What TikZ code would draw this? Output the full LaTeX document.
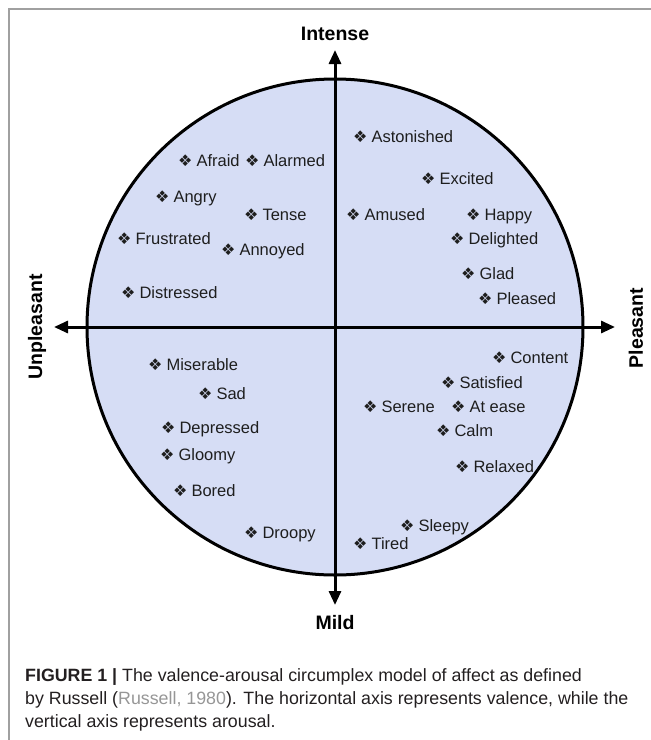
\documentclass[tikz,border=0pt]{standalone}
\usepackage{fontspec}
\setmainfont{Liberation Sans}
\newfontfamily\dejavu{DejaVu Sans}
\usetikzlibrary{arrows.meta}
\definecolor{circfill}{RGB}{214,221,245}
\definecolor{wordtxt}{RGB}{30,30,30}
\definecolor{captxt}{RGB}{35,31,32}
\definecolor{citegray}{RGB}{150,150,150}
\definecolor{framegray}{RGB}{160,160,160}
\newcommand{\diam}{{\dejavu\fontsize{16}{16}\selectfont ❖}\hspace{4pt}}
\begin{document}
\begin{tikzpicture}[x=1pt,y=-1pt,
  word/.style={anchor=base west, inner sep=0pt, font=\fontsize{16.5}{18}\selectfont, text=wordtxt},
  axlabel/.style={inner sep=0pt, font=\bfseries\fontsize{19.5}{22}\selectfont, text=black},
  axisline/.style={line width=3pt, {Triangle[length=14pt,width=12pt]}-{Triangle[length=14pt,width=12pt]}},
  captionline/.style={anchor=base west, inner sep=0pt, font=\fontsize{17.8}{22}\selectfont, text=captxt}]
\useasboundingbox (0,0) rectangle (651,740);
% frame
\draw[framegray, line width=1.2pt] (651,9) -- (9,9) -- (9,740);
% circle
\draw[line width=3pt, fill=circfill] (335,327) circle[radius=248pt];
% axes
\coordinate (N) at (335,50);
\coordinate (S) at (335,605);
\coordinate (W) at (54,327);
\coordinate (E) at (615,327);
\draw[axisline] (S) -- (N);
\draw[axisline] (W) -- (E);
% axis labels
\node[axlabel, anchor=base] (intense) at (335,40) {Intense};
\node[axlabel, anchor=base] (mild) at (335,629) {Mild};
\node[axlabel, rotate=90] (unpleasant) at (37,327) {Unpleasant};
\node[axlabel, rotate=90] (pleasant) at (636,328) {Pleasant};
% words
\node[word] (afraid) at (178,166) {\diam Afraid};
\node[word] (alarmed) at (245,166) {\diam Alarmed};
\node[word] (angry) at (155,202) {\diam Angry};
\node[word] (tense) at (244,220) {\diam Tense};
\node[word] (frustrated) at (117,244) {\diam Frustrated};
\node[word] (annoyed) at (221,255) {\diam Annoyed};
\node[word] (distressed) at (121,298) {\diam Distressed};
\node[word] (astonished) at (353,142) {\diam Astonished};
\node[word] (excited) at (421,184) {\diam Excited};
\node[word] (amused) at (346,220) {\diam Amused};
\node[word] (happy) at (466,220) {\diam Happy};
\node[word] (delighted) at (450,244) {\diam Delighted};
\node[word] (glad) at (461,279) {\diam Glad};
\node[word] (pleased) at (478,304) {\diam Pleased};
\node[word] (miserable) at (148,370) {\diam Miserable};
\node[word] (sad) at (198,399) {\diam Sad};
\node[word] (depressed) at (161,433) {\diam Depressed};
\node[word] (gloomy) at (160,460) {\diam Gloomy};
\node[word] (bored) at (173,496) {\diam Bored};
\node[word] (droopy) at (244,538) {\diam Droopy};
\node[word] (content) at (492,363) {\diam Content};
\node[word] (satisfied) at (441,388) {\diam Satisfied};
\node[word] (serene) at (363,412) {\diam Serene};
\node[word] (atease) at (451,412) {\diam At ease};
\node[word] (calm) at (436,436) {\diam Calm};
\node[word] (relaxed) at (455,472) {\diam Relaxed};
\node[word] (sleepy) at (400,531) {\diam Sleepy};
\node[word] (tired) at (353,549) {\diam Tired};
% caption
\node[captionline] (cap1) at (25,681) {\textbf{FIGURE 1 |} The valence-arousal circumplex model of affect as defined};
\node[captionline] (cap2) at (25,704) {by Russell (\textcolor{citegray}{Russell, 1980}). The horizontal axis represents valence, while the};
\node[captionline] (cap3) at (25,727) {vertical axis represents arousal.};
\end{tikzpicture}
\end{document}
